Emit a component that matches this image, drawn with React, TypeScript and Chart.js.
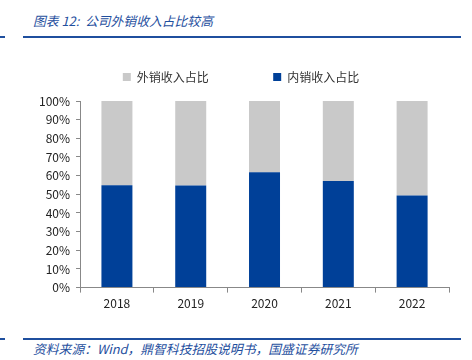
import React, { useEffect, useRef } from "react";
import { Chart, registerables } from "chart.js";

Chart.register(...registerables);

const categories = ["2018", "2019", "2020", "2021", "2022"];
const domesticShare = [54.9, 54.7, 61.8, 57.1, 49.4];
const exportShare = [45.1, 45.3, 38.2, 42.9, 50.6];
const domesticLabel = "内销收入占比";
const exportLabel = "外销收入占比";
const titleText = "图表 12:  公司外销收入占比较高";
const sourceText = "资料来源：Wind，鼎智科技招股说明书，国盛证券研究所";

const FONT = "'Noto Sans CJK SC', 'DejaVu Sans', sans-serif";
const BLUE_TEXT = "#1f4f9e";

const legendSpacer = {
  id: "legendSpacer",
  beforeInit(chart: any) {
    const orig = chart.legend.fit;
    chart.legend.fit = function () {
      orig.bind(chart.legend)();
      this.height += 8;
    };
  },
};

export default function App() {
  const ref = useRef<HTMLCanvasElement | null>(null);

  useEffect(() => {
    if (!ref.current) return;
    const chart = new Chart(ref.current, {
      type: "bar",
      data: {
        labels: categories,
        datasets: [
          {
            label: domesticLabel,
            data: domesticShare,
            backgroundColor: "#004098",
            categoryPercentage: 0.42,
            barPercentage: 1,
          },
          {
            label: exportLabel,
            data: exportShare,
            backgroundColor: "#c9c9c9",
            categoryPercentage: 0.42,
            barPercentage: 1,
          },
        ],
      },
      plugins: [legendSpacer],
      options: {
        animation: false,
        responsive: false,
        maintainAspectRatio: false,
        layout: { padding: { left: 33, right: 23, top: 0, bottom: 0 } },
        plugins: {
          tooltip: { enabled: false },
          legend: {
            reverse: true,
            position: "top",
            labels: {
              boxWidth: 8,
              boxHeight: 8,
              padding: 16,
              color: "#333",
              font: { family: FONT, size: 12 },
              generateLabels: (c: any) => {
                const items = Chart.defaults.plugins.legend.labels.generateLabels(c);
                return items.map((it: any) => ({
                  ...it,
                  lineWidth: 0,
                  strokeStyle: "transparent",
                  text: it.datasetIndex === 1 ? it.text + "                  " : it.text,
                }));
              },
            },
          },
        },
        scales: {
          x: {
            stacked: true,
            border: { color: "#888", width: 1 },
            grid: { display: true, drawOnChartArea: false, offset: true, tickLength: 5, color: "#888" },
            ticks: { color: "#222", font: { family: FONT, size: 12 }, padding: 4 },
          },
          y: {
            stacked: true,
            min: 0,
            max: 100,
            border: { color: "#888", width: 1 },
            grid: { display: true, drawOnChartArea: false, tickLength: 4, color: "#888" },
            ticks: {
              stepSize: 10,
              color: "#222",
              font: { family: FONT, size: 12 },
              padding: 6,
              callback: (v: any) => v + "%",
            },
          },
        },
      },
    });
    return () => chart.destroy();
  }, []);

  return (
    <div style={{ position: "absolute", left: 0, top: 0, width: 472, height: 360, background: "#fff", overflow: "hidden" }}>
      <div
        style={{
          position: "absolute",
          left: 33,
          top: 11,
          fontFamily: FONT,
          fontStyle: "italic",
          fontSize: 12.8,
          color: BLUE_TEXT,
          whiteSpace: "pre",
        }}
      >
        {titleText}
      </div>
      <div style={{ position: "absolute", left: 0, top: 36, width: 5, height: 2, background: "#1f4f9e" }} />
      <div style={{ position: "absolute", left: 23, top: 36, width: 438, height: 2, background: "#1f4f9e" }} />
      <canvas ref={ref} width={472} height={260} style={{ position: "absolute", left: 0, top: 55 }} />
      <div style={{ position: "absolute", left: 0, top: 338, width: 5, height: 2, background: "#1f4f9e" }} />
      <div style={{ position: "absolute", left: 23, top: 338, width: 438, height: 2, background: "#1f4f9e" }} />
      <div
        style={{
          position: "absolute",
          left: 33,
          top: 339,
          fontFamily: FONT,
          fontStyle: "italic",
          fontSize: 12.8,
          color: BLUE_TEXT,
          whiteSpace: "pre",
        }}
      >
        {sourceText}
      </div>
    </div>
  );
}
